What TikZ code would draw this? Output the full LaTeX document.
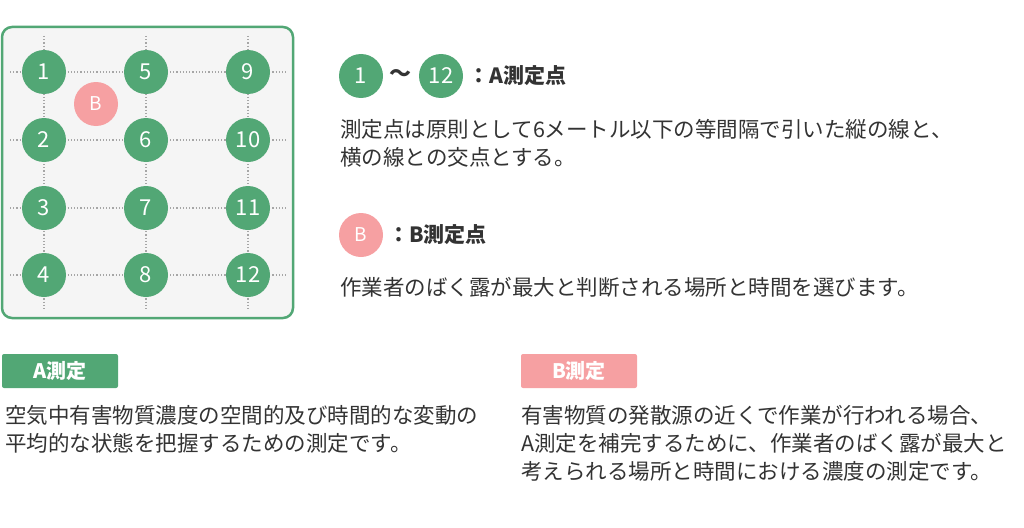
\documentclass[tikz,border=0pt]{standalone}
\usepackage{fontspec}
\setmainfont{Noto Sans CJK JP}
\definecolor{gr}{HTML}{52A775}
\definecolor{pk}{HTML}{F6A0A2}
\definecolor{bg}{HTML}{F5F5F5}
\definecolor{tx}{HTML}{333333}
\tikzset{
 gc/.style={circle,fill=gr,minimum size=44pt,inner sep=0pt,text=white,font=\fontsize{22}{22}\selectfont},
 pc/.style={circle,fill=pk,minimum size=44pt,inner sep=0pt,text=white,font=\fontsize{19}{19}\selectfont},
 dl/.style={gray!70,line width=1.2pt,dotted},
 txt/.style={anchor=west,text=tx,font=\fontsize{21.5}{28}\selectfont,inner sep=0pt,align=left},
 hd/.style={anchor=west,text=tx,font=\fontsize{21}{22}\selectfont\bfseries,inner sep=0pt},
 tag/.style={rounded corners=2pt,text=white,minimum width=116pt,minimum height=34pt,font=\fontsize{20}{20}\selectfont\bfseries,inner sep=0pt}
}
\begin{document}
\begin{tikzpicture}[x=1pt,y=-1pt]
\useasboundingbox (0,0) rectangle (1024,527);
\draw[gr,line width=2.5pt,fill=bg,rounded corners=10pt] (2,27) rectangle (293,318);
\foreach \y in {72,140,208,275} \draw[dl] (10,\y) -- (286,\y);
\foreach \x in {44,146,248} \draw[dl] (\x,36) -- (\x,310);
\foreach \n/\x/\y in {1/44/72,2/44/140,3/44/208,4/44/275,5/146/72,6/146/140,7/146/208,8/146/275,9/248/72,10/248/140,11/248/208,12/248/275}
  \node[gc] (c\n) at (\x,\y) {\n};
\node[pc] (b) at (96,104) {B};
\node[gc] (l1) at (361,76) {1};
\node[text=tx,font=\fontsize{22}{22}\selectfont\bfseries] (tl) at (400,76) {〜};
\node[gc] (l12) at (441,76) {12};
\node[hd] (la) at (468,76) {：A測定点};
\node[txt] (ta) at (340,143) {測定点は原則として6メートル以下の等間隔で引いた縦の線と、\\横の線との交点とする。};
\node[pc] (lb) at (361,235) {B};
\node[hd] (lbt) at (388,235) {：B測定点};
\node[txt] (tb) at (340,287) {作業者のばく露が最大と判断される場所と時間を選びます。};
\node[tag,fill=gr] (ta2) at (60,371) {A測定};
\node[tag,fill=pk] (tb2) at (579,371) {B測定};
\node[txt] (da) at (5,429) {空気中有害物質濃度の空間的及び時間的な変動の\\平均的な状態を把握するための測定です。};
\node[txt] (db) at (521,443) {有害物質の発散源の近くで作業が行われる場合、\\A測定を補完するために、作業者のばく露が最大と\\考えられる場所と時間における濃度の測定です。};
\end{tikzpicture}
\end{document}
